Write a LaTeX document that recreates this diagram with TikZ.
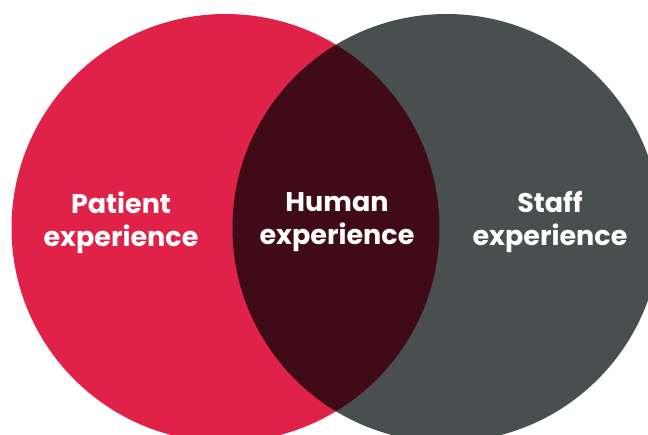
\documentclass[tikz,border=0pt]{standalone}
\usepackage{fontspec}
\setmainfont{Poppins}[UprightFont=* Bold, BoldFont=* Bold]
\definecolor{pred}{HTML}{E02249}
\definecolor{sgray}{HTML}{494F4F}
\definecolor{hdark}{HTML}{400A17}
\tikzset{
  lbl/.style={text=white, align=center, font=\fontsize{27}{33}\selectfont, inner sep=0pt}
}
\begin{document}
\begin{tikzpicture}[x=1pt,y=-1pt]
\useasboundingbox (0,0) rectangle (648,435);
\clip (0,0) rectangle (648,435);
\fill[pred] (225.5,228) circle[radius=214];
\fill[sgray] (446.5,228) circle[radius=214];
\begin{scope}
  \clip (225.5,228) circle[radius=214];
  \fill[hdark] (446.5,228) circle[radius=214];
\end{scope}
\node[lbl] (patient) at (121,222.5) {Patient\\experience};
\node[lbl] (human) at (337,222.5) {Human\\experience};
\node[lbl] (staff) at (550,222.5) {Staff\\experience};
\end{tikzpicture}
\end{document}
